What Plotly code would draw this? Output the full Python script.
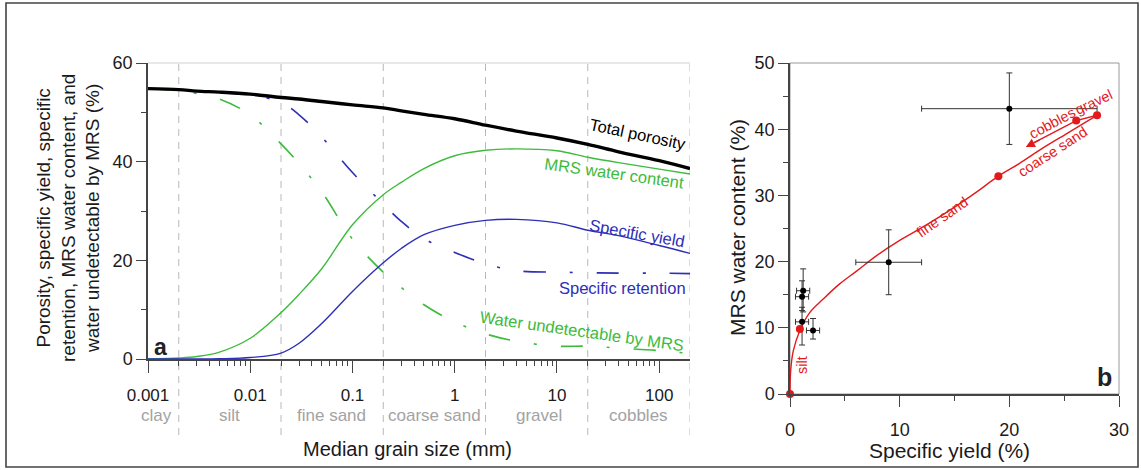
import numpy as np
import plotly.graph_objects as go

# ---------------- data: panel a ----------------
grain_mm = [0.001, 0.002, 0.003, 0.005, 0.01, 0.02, 0.03, 0.05, 0.1, 0.2, 0.3, 0.5,
            1, 2, 4, 10, 20, 40, 100, 200]
total_porosity = [54.8, 54.6, 54.3, 54.1, 53.7, 53.0, 52.7, 52.2, 51.5, 50.9, 50.3, 49.6,
                  48.7, 47.4, 46.2, 44.8, 43.5, 42.0, 40.2, 38.6]
mrs_water = [0, 0.2, 0.5, 1.4, 4.2, 9.4, 13.1, 18.3, 27.2, 33.3, 35.8, 38.6,
             41.2, 42.3, 42.6, 42.2, 40.9, 39.8, 38.5, 37.5]
specific_yield = [0, 0, 0, 0.05, 0.3, 1.2, 3.2, 7.2, 13.7, 19.5, 22.4, 25.2,
                  27.1, 28.1, 28.3, 27.6, 26.1, 25.0, 23.0, 21.4]
specific_retention = [54.8, 54.6, 54.3, 54.0, 53.5, 52.0, 49.5, 45.0, 37.8, 31.4, 27.9, 24.4,
                      21.6, 19.3, 17.9, 17.6, 17.5, 17.4, 17.4, 17.3]
water_undetectable = [54.8, 54.4, 53.8, 52.7, 49.5, 43.6, 39.6, 33.9, 24.3, 17.6, 14.5, 11.0,
                      7.5, 5.1, 3.6, 2.6, 2.6, 2.2, 1.7, 1.1]

tick_vals_a = [0.001, 0.01, 0.1, 1, 10, 100]
tick_text_a = ["0.001", "0.01", "0.1", "1", "10", "100"]
class_bounds_mm = [0.002, 0.02, 0.2, 2, 20, 200]
class_names = ["clay", "silt", "fine sand", "coarse sand", "gravel", "cobbles"]
class_label_mm = [0.00122, 0.00627, 0.0624, 0.627, 6.67, 62.7]

# ---------------- data: panel b ----------------
red_sy = [0, 0.06, 0.3, 0.9, 1.8, 3.0, 4.5, 6.1, 7.9, 10.0, 12.4, 14.8, 17.0, 19.0,
          20.9, 23.0, 25.2, 27.0, 28.0]
red_mrs = [0, 3.5, 6.5, 9.6, 12.3, 14.3, 16.6, 18.6, 20.9, 23.2, 25.5, 28.0, 30.5, 32.9,
           34.8, 37.1, 39.3, 41.1, 42.1]
return_sy = [28.0, 26.1, 22.3]
return_mrs = [42.1, 41.3, 38.0]
arrow_head = (21.5, 37.3)
class_pts_sy = [0, 0.9, 19.0, 28.0, 26.1]
class_pts_mrs = [0, 9.8, 32.9, 42.1, 41.3]

obs_sy = [20.0, 9.0, 1.2, 1.1, 1.1, 2.1]
obs_mrs = [43.1, 19.9, 15.6, 14.7, 10.9, 9.6]
obs_sy_err = [8.0, 3.0, 0.6, 0.6, 0.6, 0.6]
obs_mrs_err_plus = [5.4, 4.9, 3.3, 2.4, 2.2, 1.8]
obs_mrs_err_minus = [5.4, 4.9, 3.2, 2.1, 3.5, 1.3]

# ---------------- styling ----------------
W, H = 1141, 470
FONT = "Liberation Sans, Arial, Helvetica, sans-serif"
GREEN = "#3dbb3d"
BLUE = "#2e2eb8"
RED = "#e3191c"
AX = "#444444"
DASHDOT = "22px,24px,3px,24px"

def px(xp):
    return xp / W

def py(yp):
    return 1 - yp / H

fig = go.Figure()

# panel a curves
fig.add_trace(go.Scatter(x=grain_mm, y=water_undetectable, mode="lines",
                         line=dict(color=GREEN, width=1.6, dash=DASHDOT, shape="spline"),
                         xaxis="x", yaxis="y"))
fig.add_trace(go.Scatter(x=grain_mm, y=specific_retention, mode="lines",
                         line=dict(color=BLUE, width=1.6, dash=DASHDOT, shape="spline"),
                         xaxis="x", yaxis="y"))
fig.add_trace(go.Scatter(x=grain_mm, y=mrs_water, mode="lines",
                         line=dict(color=GREEN, width=1.4, shape="spline"),
                         xaxis="x", yaxis="y"))
fig.add_trace(go.Scatter(x=grain_mm, y=specific_yield, mode="lines",
                         line=dict(color=BLUE, width=1.4, shape="spline"),
                         xaxis="x", yaxis="y"))
fig.add_trace(go.Scatter(x=grain_mm, y=total_porosity, mode="lines",
                         line=dict(color="black", width=3.4, shape="spline"),
                         xaxis="x", yaxis="y"))

# panel b
fig.add_trace(go.Scatter(x=red_sy, y=red_mrs, mode="lines",
                         line=dict(color=RED, width=1.4, shape="spline"),
                         xaxis="x2", yaxis="y2", cliponaxis=False))
fig.add_trace(go.Scatter(x=return_sy, y=return_mrs, mode="lines",
                         line=dict(color=RED, width=1.4),
                         xaxis="x2", yaxis="y2", cliponaxis=False))
fig.add_trace(go.Scatter(x=obs_sy, y=obs_mrs, mode="markers",
                         marker=dict(color="black", size=6),
                         error_x=dict(type="data", array=obs_sy_err, color="#333", thickness=1, width=3),
                         error_y=dict(type="data", array=obs_mrs_err_plus, arrayminus=obs_mrs_err_minus,
                                      color="#333", thickness=1, width=3),
                         xaxis="x2", yaxis="y2", cliponaxis=False))
fig.add_trace(go.Scatter(x=class_pts_sy, y=class_pts_mrs, mode="markers",
                         marker=dict(color=RED, size=8),
                         xaxis="x2", yaxis="y2", cliponaxis=False))

shapes = []
# outer frame
shapes.append(dict(type="rect", xref="paper", yref="paper", x0=px(6), x1=px(1138),
                   y0=py(467), y1=py(3), line=dict(color="#444", width=1.6)))
# dashed class boundaries
for b in class_bounds_mm:
    shapes.append(dict(type="line", xref="x", yref="paper", x0=b, x1=b,
                       y0=py(435), y1=py(63), line=dict(color="#b8b8b8", width=1, dash="7px,6px"),
                       layer="below"))
# top light line of panel a
shapes.append(dict(type="line", xref="x domain", yref="y domain", x0=0, x1=1, y0=1, y1=1,
                   line=dict(color="#d0d0d0", width=1)))
# light frame of panel b
shapes.append(dict(type="rect", xref="x2 domain", yref="y2 domain", x0=0, x1=1, y0=0, y1=1,
                   line=dict(color="#999", width=1), layer="below"))

ann = []
def add_text(text, x, y, xref, yref, size, color, angle=0, bold=False, xanchor="center",
             yanchor="middle"):
    ann.append(dict(text=("<b>%s</b>" % text) if bold else text, x=x, y=y, xref=xref, yref=yref,
                    showarrow=False, textangle=angle, xanchor=xanchor, yanchor=yanchor,
                    font=dict(family=FONT, size=size, color=color)))

# panel a curve labels (log10 x for annotations on log axis)
add_text("Total porosity", 1.79, 45.7, "x", "y", 16.5, "black", 12)
add_text("MRS water content", 1.56, 37.8, "x", "y", 16.5, GREEN, 8)
add_text("Specific yield", 1.78, 25.5, "x", "y", 16.5, BLUE, 10)
add_text("Specific retention", 1.64, 14.3, "x", "y", 16.5, BLUE, 0)
add_text("Water undetectable by MRS", 1.245, 5.7, "x", "y", 16.5, GREEN, 8)
add_text("a", -2.88, 2.4, "x", "y", 23, "#222", 0, bold=True)

# class names under axis
for name, xm in zip(class_names, class_label_mm):
    add_text(name, float(np.log10(xm)), py(415), "x", "paper", 17, "#a3a3a3")

# axis titles
add_text("Porosity, specific yield, specific<br>retention, MRS water content, and<br>water undetectable by MRS (%)",
         px(68), py(218), "paper", "paper", 19, "#1a1a1a", -90)
add_text("Median grain size (mm)", px(408), py(449), "paper", "paper", 20, "#1a1a1a")
add_text("MRS water content (%)", px(737), py(228), "paper", "paper", 21, "#1a1a1a", -90)
add_text("Specific yield (%)", px(949), py(450), "paper", "paper", 21, "#1a1a1a")

# panel b labels
add_text("silt", 1.1, 4.4, "x2", "y2", 14.5, RED, -90)
add_text("fine sand", 13.9, 26.7, "x2", "y2", 14.5, RED, -35)
add_text("coarse sand", 23.9, 36.6, "x2", "y2", 14.5, RED, -33)
add_text("cobbles", 23.9, 41.0, "x2", "y2", 14.5, RED, -28)
add_text("gravel", 27.7, 44.1, "x2", "y2", 14.5, RED, -25)
add_text("b", 28.7, 2.6, "x2", "y2", 25, "#222", 0, bold=True)

# arrow
ann.append(dict(x=arrow_head[0], y=arrow_head[1], ax=return_sy[-1] + 0.6, ay=return_mrs[-1] + 0.5,
                xref="x2", yref="y2", axref="x2", ayref="y2", text="", showarrow=True,
                arrowhead=2, arrowsize=1.3, arrowwidth=1.4, arrowcolor=RED))

tickfont = dict(family=FONT, size=17, color="#1a1a1a")

fig.update_layout(
    width=W, height=H, margin=dict(l=0, r=0, t=0, b=0, autoexpand=False),
    paper_bgcolor="white", plot_bgcolor="white", showlegend=False,
    shapes=shapes, annotations=ann,
    xaxis=dict(type="log", domain=[px(148), px(690)], range=[-3, np.log10(200)],
               tickvals=tick_vals_a, ticktext=tick_text_a, ticks="outside", ticklen=12,
               tickcolor=AX, tickwidth=1.2, showline=True, linecolor=AX, linewidth=1.5,
               showgrid=False, zeroline=False, tickfont=tickfont, ticklabelstandoff=8,
               automargin=False,
               minor=dict(tickvals=[m * d for d in [0.001, 0.01, 0.1, 1, 10] for m in range(2, 10)],
                          ticks="outside", ticklen=5, tickcolor=AX, showgrid=False),
               anchor="y"),
    yaxis=dict(domain=[py(359), py(63)], range=[0, 60], tickvals=[0, 20, 40, 60],
               ticks="outside", ticklen=10, tickcolor=AX, tickwidth=1.2, showline=True,
               linecolor=AX, linewidth=1.5, showgrid=False, zeroline=False,
               tickfont=dict(family=FONT, size=18, color="#1a1a1a"), automargin=False,
               minor=dict(tickvals=[10, 30, 50], ticks="outside", ticklen=5, tickcolor=AX),
               anchor="x"),
    xaxis2=dict(domain=[px(790), px(1119)], range=[0, 30], tickvals=[0, 10, 20, 30],
                ticks="outside", ticklen=11, tickcolor=AX, tickwidth=1.2, showline=True,
                linecolor=AX, linewidth=1.5, showgrid=False, zeroline=False,
                tickfont=dict(family=FONT, size=18, color="#1a1a1a"), ticklabelstandoff=8,
                automargin=False,
                minor=dict(tickvals=[5, 15, 25], ticks="outside", ticklen=5, tickcolor=AX),
                anchor="y2"),
    yaxis2=dict(domain=[py(394), py(63)], range=[0, 50], tickvals=[0, 10, 20, 30, 40, 50],
                ticks="outside", ticklen=10, tickcolor=AX, tickwidth=1.2, showline=True,
                linecolor=AX, linewidth=1.5, showgrid=False, zeroline=False,
                tickfont=dict(family=FONT, size=18, color="#1a1a1a"), automargin=False,
                minor=dict(tickvals=[5, 15, 25, 35, 45], ticks="outside", ticklen=5, tickcolor=AX),
                anchor="x2"),
)

fig.write_html("out.html", config={"displayModeBar": False},
               post_script="document.body.style.margin='0';document.body.style.overflow='hidden';")
